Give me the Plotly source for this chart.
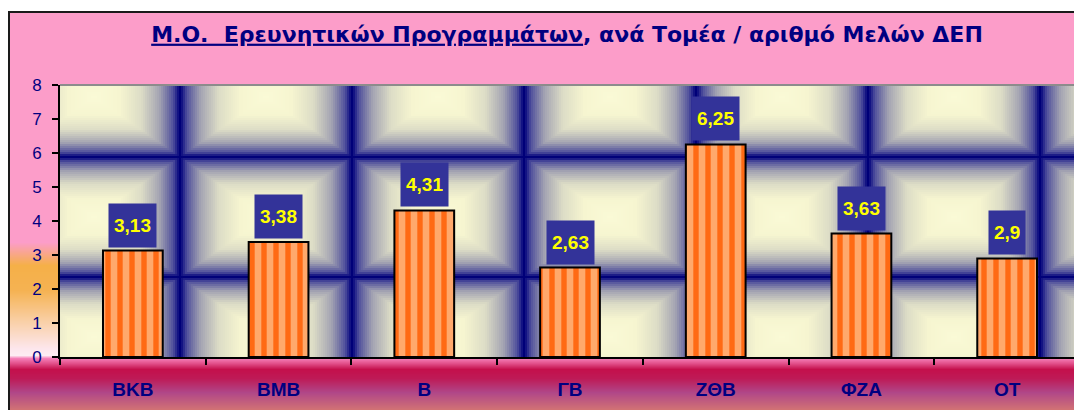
import numpy as np
import plotly.graph_objects as go

# dados do gráfico
tomeis = ["ΒΚΒ", "ΒΜΒ", "Β", "ΓΒ", "ΖΘΒ", "ΦΖΑ", "ΟΤ"]
valores = [3.13, 3.38, 4.31, 2.63, 6.25, 3.63, 2.9]
rotulos = ["3,13", "3,38", "4,31", "2,63", "6,25", "3,63", "2,9"]
y_ticks = [0, 1, 2, 3, 4, 5, 6, 7, 8]

W, H = 1082, 410
OFF = 8  # margem do body da página (px)
NAVY = "#000080"


def px_x(p):
    # posição de tela (px) -> fração do papel
    return (p - OFF) / W


def px_y(p):
    return 1 - (p - OFF) / H


fig = go.Figure()

# fundo da área do gráfico (gradiente vertical, em pixels de tela)
linhas = np.arange(12, 419)
paradas = [(12, "#FC9DC9"), (242, "#FC9DC9"), (265, "#F5B048"), (290, "#F5B252"),
           (320, "#F9CFA4"), (348, "#FDE6EC"), (355, "#FDEDF3"), (358, "#F57FB8"),
           (363, "#E2508A"), (369, "#C4104C"), (378, "#BE1A56"), (392, "#B04688"),
           (418, "#E2886A")]
escala_fundo = [[(p - 12) / (418 - 12), c] for p, c in paradas]
fig.add_trace(go.Heatmap(
    x=[0, 1], y=linhas, z=[[r, r] for r in linhas],
    colorscale=escala_fundo, zmin=12, zmax=418,
    showscale=False, hoverinfo="skip", xaxis="x", yaxis="y"
))

# textura da área de plotagem (ladrilhos creme / azul-marinho)
xs = np.arange(0, 1021, 2)
ys = np.linspace(0, 8, 137)
tw, th = 172.0, 120 / 34
dx = np.abs(((xs - 34 + tw / 2) % tw) - tw / 2) / (tw / 2)
dy = np.abs(((ys - 0.59 + th / 2) % th) - th / 2) / (th / 2)
t = np.maximum(dx[None, :], dy[:, None]).round(3)
fig.add_trace(go.Heatmap(
    x=xs, y=ys, z=t,
    colorscale=[[0, "#FAFAD6"], [0.3, "#F6F5D0"], [0.55, "#DCDCC6"], [0.76, "#A4A4B2"],
                [0.92, "#50509C"], [0.985, "#0A0A80"], [1, "#000078"]],
    zmin=0, zmax=1, showscale=False, hoverinfo="skip",
    xaxis="x2", yaxis="y2"
))

# barras
fig.add_trace(go.Bar(
    x=tomeis, y=valores, xaxis="x3", yaxis="y2",
    width=0.41,
    marker=dict(
        color="#FF6A14",
        line=dict(color="black", width=2),
        pattern=dict(shape="|", fgcolor="#FFE8C4", size=12, solidity=0.55),
    ),
    hoverinfo="skip",
))

# rótulos de dados
for cat, val, txt in zip(tomeis, valores, rotulos):
    fig.add_annotation(
        x=cat, y=val, xref="x3", yref="y2", text=f"<b>{txt}</b>",
        showarrow=False, yanchor="bottom", yshift=3,
        bgcolor="#333399", borderpad=5, height=33,
        font=dict(family="Arial", size=19, color="#FFFF00"),
    )

fig.update_layout(
    width=W, height=H, autosize=False,
    margin=dict(l=0, r=0, t=0, b=0, autoexpand=False),
    paper_bgcolor="white", plot_bgcolor="rgba(0,0,0,0)",
    showlegend=False,
    title=dict(
        text="<u>Μ.Ο.\u00a0 Ερευνητικών Προγραμμάτων</u>, ανά Τομέα / αριθμό Μελών ΔΕΠ",
        x=px_x(567), y=px_y(34), xanchor="center", yanchor="middle",
        xref="paper", yref="paper", automargin=False,
        font=dict(family="DejaVu Sans", size=22, color=NAVY, weight="bold"),
    ),
    xaxis=dict(domain=[px_x(9), 1], range=[-0.5, 1.5], visible=False,
               fixedrange=True, automargin=False),
    yaxis=dict(domain=[0, px_y(12)], range=[418, 12], visible=False,
               fixedrange=True, automargin=False),
    xaxis2=dict(domain=[px_x(60), px_x(1080)], range=[0, 1020], visible=False,
                anchor="y2", automargin=False),
    yaxis2=dict(
        domain=[px_y(357), px_y(85)], range=[0, 8], anchor="x2", automargin=False,
        tickvals=y_ticks, ticks="outside", ticklen=6, tickwidth=1.5, tickcolor="black",
        showline=True, linecolor="black", linewidth=2,
        showgrid=False, zeroline=False, ticklabelstandoff=7,
        tickfont=dict(family="Arial", size=17, color=NAVY),
    ),
    xaxis3=dict(
        overlaying="x2", anchor="y2", type="category", automargin=False,
        ticks="outside", tickson="boundaries", ticklen=6, tickwidth=2, tickcolor="black",
        showline=True, linecolor="black", linewidth=2, showgrid=False,
        ticklabelstandoff=14,
        tickfont=dict(family="Arial", size=19, color=NAVY, weight="bold"),
    ),
    shapes=[
        dict(type="line", xref="paper", yref="paper", x0=px_x(8), x1=1,
             y0=px_y(12), y1=px_y(12), line=dict(color="#1A1A1A", width=2)),
        dict(type="line", xref="paper", yref="paper", x0=px_x(9), x1=px_x(9),
             y0=0, y1=px_y(12), line=dict(color="#1A1A1A", width=2)),
        dict(type="line", xref="x2 domain", yref="y2 domain", x0=0, x1=1, y0=1, y1=1,
             line=dict(color="#8C8C8C", width=2)),
        dict(type="line", xref="x2 domain", yref="y2 domain", x0=1, x1=1, y0=0, y1=1,
             line=dict(color="#8C8C8C", width=2)),
    ],
)

fig.write_html("out.html")
